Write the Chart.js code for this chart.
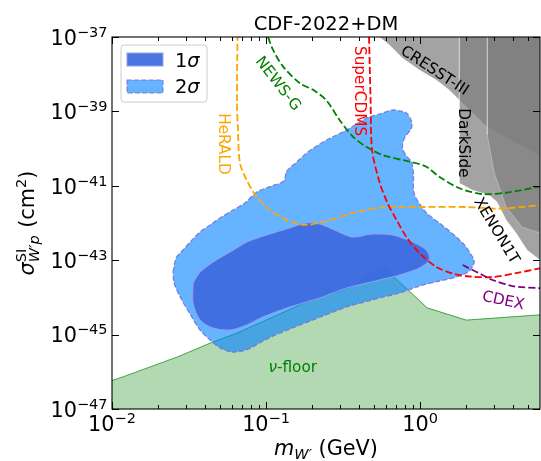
<!DOCTYPE html>
<html>
<head>
<meta charset="utf-8">
<script src="https://cdn.jsdelivr.net/npm/chart.js@4/dist/chart.umd.min.js"></script>
<style>
  html, body { margin: 0; padding: 0; background: #fff; }
  canvas { display: block; }
</style>
</head>
<body>
<canvas id="c" width="541" height="461"></canvas>
<script>
// ---- Axis ticks (W' mass in GeV, cross section in cm^2) ----
const xTickVals = [0.01, 0.1, 1];
const xTickExp = ['\u22122', '\u22121', '0'];
const xMinorVals = [0.02, 0.03, 0.04, 0.05, 0.06, 0.07, 0.08, 0.09,
                    0.2, 0.3, 0.4, 0.5, 0.6, 0.7, 0.8, 0.9, 2, 3, 4, 5];
const yTickVals = [1e-37, 1e-39, 1e-41, 1e-43, 1e-45, 1e-47];
const yTickExp = ['\u221237', '\u221239', '\u221241', '\u221243', '\u221245', '\u221247'];

// ---- CDF-2022 preferred regions (closed contours) ----
const sigma2_m = [0.0249, 0.0261, 0.0289, 0.0331, 0.0373, 0.0433, 0.0502, 0.0610, 0.0729, 0.0872,
                  0.109, 0.1303, 0.1363, 0.1583, 0.1837, 0.2133, 0.2474, 0.2872, 0.3334, 0.387,
                  0.4492, 0.5452, 0.6615, 0.7357, 0.8153, 0.8785, 0.8785, 0.7914, 0.7681, 0.8153,
                  0.8785, 0.9051, 0.9051, 0.9324, 1.004, 1.098, 1.333, 1.692, 1.964, 2.148,
                  2.246, 2.085, 1.718, 1.333, 0.9896, 0.7357, 0.5452, 0.3334, 0.2009, 0.1228,
                  0.0954, 0.0751, 0.0610, 0.0518, 0.0433, 0.0373, 0.0321, 0.0277, 0.0253, 0.0249];
const sigma2_xs = [4.82e-44, 1.15e-43, 1.88e-43, 3.49e-43, 5.73e-43, 8.83e-43, 1.36e-42, 2.23e-42, 3.45e-42, 6.81e-42,
                   9.89e-42, 1.35e-41, 2.50e-41, 4.37e-41, 7.62e-41, 1.17e-40, 1.70e-40, 2.32e-40, 3.16e-40, 4.58e-40,
                   6.65e-40, 8.51e-40, 1.09e-39, 1.03e-39, 9.06e-40, 5.52e-40, 3.58e-40, 1.93e-40, 1.04e-40, 6.32e-41,
                   4.37e-41, 1.95e-41, 7.71e-42, 5.00e-42, 3.05e-42, 1.86e-42, 1.0e-42, 4.48e-43, 2.41e-43, 1.38e-43,
                   8.95e-44, 5.13e-44, 3.53e-44, 2.76e-44, 2.02e-44, 1.31e-44, 9.64e-45, 5.52e-45, 2.47e-45, 1.10e-45,
                   6.73e-46, 3.97e-46, 3.40e-46, 4.10e-46, 7.16e-46, 1.33e-45, 3.58e-45, 1.03e-44, 2.44e-44, 4.82e-44];

const sigma1_m = [0.0336, 0.0373, 0.0453, 0.0583, 0.0751, 0.1012, 0.1426, 0.1837, 0.2229, 0.2872,
                  0.3646, 0.4912, 0.6615, 0.8915, 1.098, 1.149, 0.9896, 0.7357, 0.5452, 0.3334,
                  0.2229, 0.1426, 0.0954, 0.0751, 0.0583, 0.0453, 0.0373, 0.0336, 0.0336];
const sigma1_xs = [2.44e-44, 4.82e-44, 8.95e-44, 1.66e-43, 3.08e-43, 4.75e-43, 7.34e-43, 1.0e-42, 9.40e-43, 6.10e-43,
                   4.21e-43, 5.06e-43, 4.75e-43, 3.08e-43, 1.88e-43, 1.01e-43, 6.17e-44, 4.0e-44, 2.94e-44, 1.79e-44,
                   9.64e-45, 5.52e-45, 2.97e-45, 1.81e-45, 1.33e-45, 1.50e-45, 2.47e-45, 7.06e-45, 2.44e-44];

// ---- Neutrino floor ----
const floor_m = [0.01, 0.0122, 0.0265, 0.0434, 0.0648, 0.184, 0.387, 0.456, 0.587, 1.11, 1.99, 6.0];
const floor_xs = [5.8e-47, 7.7e-47, 2.5e-46, 5.9e-46, 1.1e-45, 7.6e-45, 2.14e-44, 4.27e-44, 6.17e-44, 5.25e-45, 2.45e-45, 3.4e-45];

// ---- Excluded regions ----
const cresst_m = [0.545, 0.633, 0.768, 0.99, 1.275, 1.548, 1.797, 2.73, 4.08, 6.0, 6.0, 0.545];
const cresst_xs = [1e-37, 6.1e-38, 2.72e-38, 1.30e-38, 6.98e-39, 3.76e-39, 2.02e-39, 3.81e-40, 1.5e-40, 6.7e-41, 1e-37, 1e-37];
const darkside_m = [1.797, 1.797, 2.18, 2.81, 3.16, 3.62, 4.20, 4.95, 6.0, 6.0, 1.797];
const darkside_xs = [1e-37, 1.19e-41, 7.7e-42, 5.66e-42, 3.67e-42, 1.21e-42, 5.4e-43, 1.88e-43, 1.01e-43, 1e-37, 1e-37];
const xenon_m = [2.73, 2.73, 3.03, 3.62, 4.59, 6.0, 6.0, 2.73];
const xenon_xs = [1e-37, 2.32e-40, 2.21e-41, 2.69e-42, 7.8e-43, 5.38e-43, 1e-37, 1e-37];

// ---- Projected / reported limits (dashed) ----
const herald_m = [0.0653, 0.0647, 0.0657, 0.0677, 0.0748, 0.0868, 0.106, 0.136, 0.178, 0.246, 0.365, 0.570, 0.99, 1.99, 3.26, 6.0];
const herald_xs = [1.2e-37, 2.0e-39, 3.2e-40, 4.1e-41, 1.43e-41, 5.1e-42, 2.24e-42, 1.2e-42, 8.9e-43, 1.12e-42, 1.86e-42, 2.63e-42, 2.69e-42, 2.69e-42, 2.45e-42, 3.0e-42];
const newsg_m = [0.103, 0.111, 0.129, 0.166, 0.202, 0.246, 0.300, 0.366, 0.447, 0.573, 0.853, 1.09, 1.33, 1.80, 2.54, 3.60, 6.0];
const newsg_xs = [1e-37, 4.5e-38, 1.6e-38, 5.7e-39, 3.8e-39, 2.0e-39, 5.9e-40, 2.1e-40, 1.12e-40, 6.7e-41, 4.45e-41, 3.3e-41, 1.76e-41, 8.6e-42, 6.0e-42, 6.5e-42, 9.5e-42];
const supercdms_m = [0.466, 0.477, 0.488, 0.545, 0.614, 0.703, 0.815, 0.990, 1.275, 1.62, 2.09, 2.94, 4.20, 6.0];
const supercdms_xs = [1e-37, 2.0e-39, 9.2e-41, 1.26e-41, 3.45e-42, 1.21e-42, 4.2e-43, 1.56e-43, 6.6e-44, 4.4e-44, 3.65e-44, 3.53e-44, 4.5e-44, 6.05e-44];
const cdex_m = [1.89, 2.54, 2.95, 3.98, 6.0];
const cdex_xs = [7.4e-44, 4.0e-44, 2.94e-44, 2.02e-44, 1.76e-44];

// ---- Curve labels: text, anchor (GeV, cm^2), rotation ----
const noteText = ['HeRALD', 'NEWS-G', 'SuperCDMS', 'CRESST-III', 'DarkSide', 'XENON1T', 'CDEX'];
const noteM = [0.0525, 0.1192, 0.399, 1.238, 1.892, 3.118, 3.461];
const noteXs = [1.33e-40, 5.45e-39, 3.53e-39, 1.22e-38, 1.42e-40, 6.10e-43, 8.0e-45];
const noteRot = [90, 52, 90, 33, 90, 59, 12];
const noteColor = ['#ffa500', '#008000', '#ff0000', '#000000', '#000000', '#000000', '#800080'];
const floorNote = { m: 0.149, xs: 1.43e-46 };

const pts = (xs, ys) => xs.map((x, i) => ({ x: x, y: ys[i] }));

const FAM = '"DejaVu Sans"';
const up = px => px + 'px ' + FAM;
const it = px => 'italic ' + px + 'px ' + FAM;
const F = 20.8, S = 14.5, FL = 19.4, FN = 15.3;

const GRAY = 'rgba(128,128,128,0.72)';
const GRAY_EDGE = 'rgba(255,255,255,0.28)';
const FILL2 = 'rgba(0,128,255,0.6)';
const EDGE2 = 'rgba(112,112,215,0.85)';
const FILL1 = 'rgba(60,105,222,0.92)';
const EDGE1 = 'rgba(150,160,240,0.9)';

function region(data, order) {
  return { data, showLine: true, fill: 'shape', backgroundColor: GRAY, borderColor: GRAY_EDGE,
           borderWidth: 1, pointRadius: 0, tension: 0, order, clip: 0 };
}
function limit(data, color, order) {
  return { data, showLine: true, fill: false, borderColor: color, borderWidth: 1.8,
           borderDash: [7, 3], pointRadius: 0, tension: 0.3, order, clip: 0 };
}

function drawPow(ctx, exp, x, y, align) {
  ctx.font = up(F);
  const wb = ctx.measureText('10').width;
  ctx.font = up(S);
  const ws = ctx.measureText(exp).width;
  const tot = wb + ws;
  const x0 = align === 'right' ? x - tot : x - tot / 2;
  ctx.textAlign = 'left';
  ctx.textBaseline = 'alphabetic';
  ctx.font = up(F);
  ctx.fillText('10', x0, y);
  ctx.font = up(S);
  ctx.fillText(exp, x0 + wb, y - 8);
}

// Draws a run of [text, font, dy] pieces starting at x along baseline y; returns the run width
function runPieces(ctx, pieces, x, y, draw) {
  let cx = x;
  pieces.forEach(p => {
    ctx.font = p[1];
    const w = ctx.measureText(p[0]).width;
    if (draw) ctx.fillText(p[0], cx, y + (p[2] || 0));
    cx += w;
  });
  return cx - x;
}

const decor = {
  id: 'decor',
  afterDraw(chart) {
    const ctx = chart.ctx, a = chart.chartArea;
    const X = v => chart.scales.x.getPixelForValue(v);
    const Y = v => chart.scales.y.getPixelForValue(v);
    ctx.save();

    // curve labels
    ctx.font = up(FN);
    noteText.forEach((t, i) => {
      ctx.save();
      ctx.translate(X(noteM[i]), Y(noteXs[i]));
      ctx.rotate(noteRot[i] * Math.PI / 180);
      ctx.fillStyle = noteColor[i];
      ctx.textAlign = 'center';
      ctx.textBaseline = 'middle';
      ctx.fillText(t, 0, 0);
      ctx.restore();
    });
    // neutrino floor label
    {
      const pieces = [['\u03bd', it(FN)], ['-floor', up(FN)]];
      ctx.fillStyle = '#008000';
      ctx.textAlign = 'left';
      ctx.textBaseline = 'alphabetic';
      const w = runPieces(ctx, pieces, 0, 0, false);
      runPieces(ctx, pieces, X(floorNote.m) - w / 2, Y(floorNote.xs) + 5.5, true);
    }

    // frame
    ctx.strokeStyle = '#000';
    ctx.lineWidth = 1.1;
    ctx.strokeRect(a.left, a.top, a.right - a.left, a.bottom - a.top);

    // ticks (inward, all four sides)
    ctx.lineWidth = 1;
    ctx.beginPath();
    xTickVals.forEach(v => {
      const p = Math.round(X(v)) + 0.5;
      ctx.moveTo(p, a.bottom); ctx.lineTo(p, a.bottom - 7);
      ctx.moveTo(p, a.top); ctx.lineTo(p, a.top + 7);
    });
    xMinorVals.forEach(v => {
      const p = Math.round(X(v)) + 0.5;
      ctx.moveTo(p, a.bottom); ctx.lineTo(p, a.bottom - 4);
      ctx.moveTo(p, a.top); ctx.lineTo(p, a.top + 4);
    });
    yTickVals.forEach(v => {
      const p = Math.round(Y(v)) + 0.5;
      ctx.moveTo(a.left, p); ctx.lineTo(a.left + 7, p);
      ctx.moveTo(a.right, p); ctx.lineTo(a.right - 7, p);
    });
    ctx.stroke();

    // tick labels
    ctx.fillStyle = '#000';
    xTickVals.forEach((v, i) => drawPow(ctx, xTickExp[i], X(v), 431, 'center'));
    yTickVals.forEach((v, i) => drawPow(ctx, yTickExp[i], 107.5, Y(v) + 7.7, 'right'));

    // x axis title
    {
      const pieces = [['m', it(F)], ['W\u2032', it(S), 3.5], [' (GeV)', up(F)]];
      ctx.textAlign = 'left';
      ctx.textBaseline = 'alphabetic';
      const w = runPieces(ctx, pieces, 0, 0, false);
      runPieces(ctx, pieces, (a.left + a.right) / 2 - w / 2, 455, true);
    }
    // y axis title (rotated)
    {
      ctx.save();
      ctx.translate(34, (a.top + a.bottom) / 2);
      ctx.rotate(-Math.PI / 2);
      ctx.textAlign = 'left';
      ctx.textBaseline = 'alphabetic';
      ctx.font = it(F);
      const wSig = ctx.measureText('\u03c3').width;
      ctx.font = up(S);
      const wSup = ctx.measureText('SI').width;
      const subPieces = [['W\u2032', it(S)], ['p', it(S)]];
      const wSub = runPieces(ctx, subPieces, 0, 0, false);
      const wScr = Math.max(wSup, wSub) + 1;
      const tail = [[' (cm', up(F)], ['2', up(S), -8], [')', up(F)]];
      const wTail = runPieces(ctx, tail, 0, 0, false);
      const tot = wSig + wScr + wTail;
      let x0 = -tot / 2;
      ctx.font = it(F);
      ctx.fillText('\u03c3', x0, 0);
      ctx.font = up(S);
      ctx.fillText('SI', x0 + wSig, -8.5);
      runPieces(ctx, subPieces, x0 + wSig, 5, true);
      runPieces(ctx, tail, x0 + wSig + wScr, 0, true);
      ctx.restore();
    }

    // title
    ctx.font = up(19.5);
    ctx.textAlign = 'center';
    ctx.textBaseline = 'alphabetic';
    ctx.fillText('CDF-2022+DM', (a.left + a.right) / 2, 30);

    // legend
    {
      const bx = 121, by = 45, bw = 86, bh = 57, r = 3;
      ctx.beginPath();
      ctx.moveTo(bx + r, by);
      ctx.arcTo(bx + bw, by, bx + bw, by + bh, r);
      ctx.arcTo(bx + bw, by + bh, bx, by + bh, r);
      ctx.arcTo(bx, by + bh, bx, by, r);
      ctx.arcTo(bx, by, bx + bw, by, r);
      ctx.closePath();
      ctx.fillStyle = 'rgba(255,255,255,0.8)';
      ctx.fill();
      ctx.strokeStyle = '#cccccc';
      ctx.lineWidth = 1;
      ctx.stroke();

      // 1 sigma patch
      ctx.fillStyle = FILL1;
      ctx.fillRect(127, 53, 36, 13);
      ctx.strokeStyle = EDGE1;
      ctx.lineWidth = 1.1;
      ctx.strokeRect(127, 53, 36, 13);
      // 2 sigma patch
      ctx.fillStyle = FILL2;
      ctx.fillRect(127, 80, 36, 13);
      ctx.strokeStyle = EDGE2;
      ctx.setLineDash([5, 2.2]);
      ctx.strokeRect(127, 80, 36, 13);
      ctx.setLineDash([]);

      ctx.fillStyle = '#000';
      ctx.textAlign = 'left';
      runPieces(ctx, [['1', up(FL)], ['\u03c3', it(FL)]], 175, 66.5, true);
      runPieces(ctx, [['2', up(FL)], ['\u03c3', it(FL)]], 175, 93, true);
    }
    ctx.restore();
  }
};

new Chart(document.getElementById('c'), {
  type: 'scatter',
  data: {
    datasets: [
      { data: pts(floor_m, floor_xs), showLine: true, fill: 'start',
        backgroundColor: 'rgba(0,128,0,0.3)', borderColor: 'rgba(20,140,20,0.75)',
        borderWidth: 1, pointRadius: 0, tension: 0, order: 10, clip: 0 },
      region(pts(cresst_m, cresst_xs), 9),
      region(pts(darkside_m, darkside_xs), 8),
      region(pts(xenon_m, xenon_xs), 7),
      { data: pts(sigma2_m, sigma2_xs), showLine: true, fill: 'shape',
        backgroundColor: FILL2, borderColor: EDGE2, borderWidth: 1.3, borderDash: [5, 2.2],
        pointRadius: 0, tension: 0.3, order: 6, clip: 0 },
      { data: pts(sigma1_m, sigma1_xs), showLine: true, fill: 'shape',
        backgroundColor: FILL1, borderColor: EDGE1, borderWidth: 1.1,
        pointRadius: 0, tension: 0.3, order: 5, clip: 0 },
      limit(pts(herald_m, herald_xs), '#ffa500', 4),
      limit(pts(newsg_m, newsg_xs), '#008000', 3),
      limit(pts(supercdms_m, supercdms_xs), '#ff0000', 2),
      limit(pts(cdex_m, cdex_xs), '#800080', 1)
    ]
  },
  options: {
    responsive: false,
    devicePixelRatio: 1,
    animation: false,
    events: [],
    layout: { padding: { left: 112, top: 37, right: 1, bottom: 52 } },
    plugins: { legend: { display: false }, tooltip: { enabled: false } },
    scales: {
      x: { type: 'logarithmic', min: 0.01, max: 6, bounds: 'data', display: false,
           afterBuildTicks: s => { s.min = 0.01; s.max = 6; } },
      y: { type: 'logarithmic', min: 1e-47, max: 1e-37, bounds: 'data', display: false,
           afterBuildTicks: s => { s.min = 1e-47; s.max = 1e-37; } }
    }
  },
  plugins: [decor]
});
</script>
</body>
</html>
